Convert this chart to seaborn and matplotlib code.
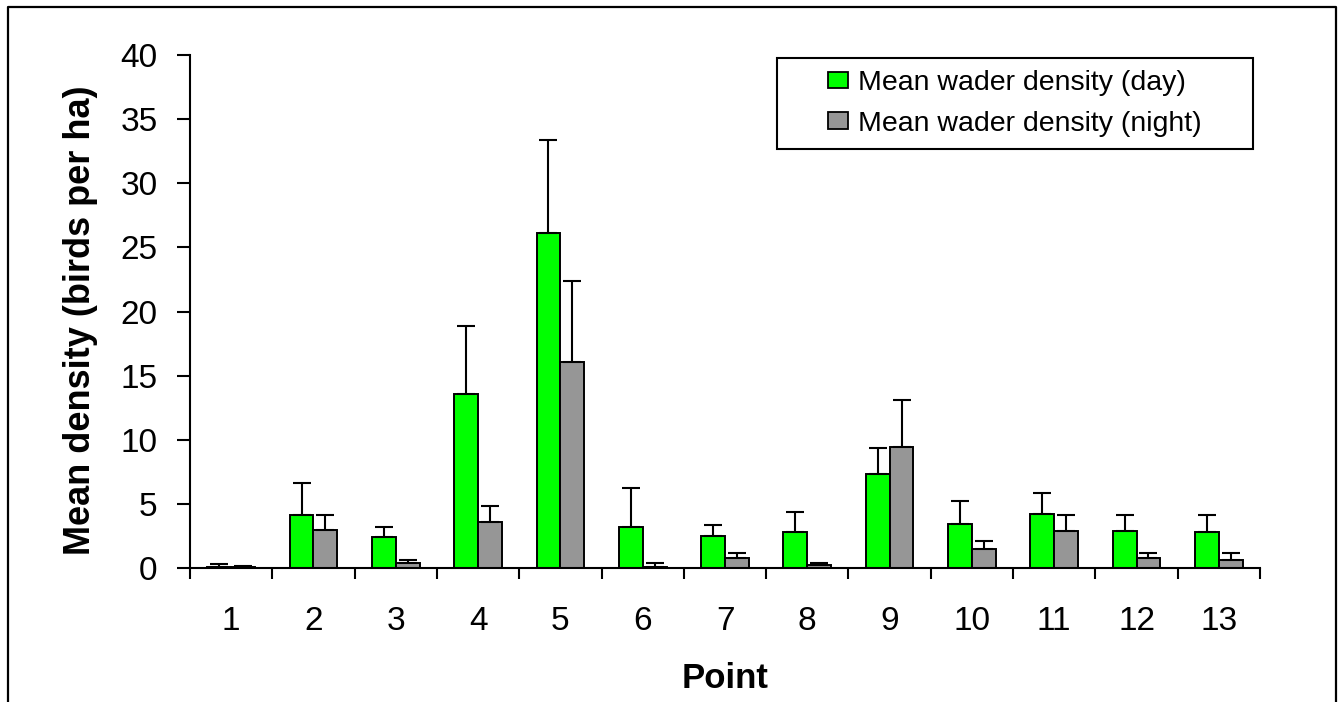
import numpy as np
import pandas as pd
import matplotlib
matplotlib.use("Agg")
import matplotlib.pyplot as plt
from matplotlib.patches import Rectangle
from matplotlib.lines import Line2D
import seaborn as sns

# Survey points and mean wader densities (birds per ha) with upper standard errors
points = [str(i) for i in range(1, 14)]
day_mean = [0.1, 4.1, 2.4, 13.6, 26.1, 3.2, 2.5, 2.8, 7.3, 3.4, 4.2, 2.9, 2.8]
day_err = [0.2, 2.55, 0.8, 5.3, 7.3, 3.06, 0.82, 1.56, 2.05, 1.8, 1.65, 1.2, 1.3]
night_mean = [0.08, 3.0, 0.4, 3.6, 16.1, 0.1, 0.75, 0.25, 9.45, 1.45, 2.9, 0.75, 0.6]
night_err = [0.05, 1.1, 0.25, 1.2, 6.25, 0.3, 0.42, 0.15, 3.65, 0.65, 1.2, 0.42, 0.57]
series = ["Mean wader density (day)", "Mean wader density (night)"]
y_ticks = [0, 5, 10, 15, 20, 25, 30, 35, 40]

colors = ["#00FF00", "#969696"]

df = pd.DataFrame({
    "Point": points * 2,
    "Period": [series[0]] * len(points) + [series[1]] * len(points),
    "Density": day_mean + night_mean,
})

sns.set_style("ticks")
plt.rcParams["font.family"] = ["Liberation Sans", "DejaVu Sans"]
plt.rcParams["text.color"] = "black"
plt.rcParams["axes.labelcolor"] = "black"
plt.rcParams["xtick.color"] = "black"
plt.rcParams["ytick.color"] = "black"

W, H = 1338, 702
fig = plt.figure(figsize=(W / 100, H / 100), dpi=100)
ax = fig.add_axes([190 / W, 1 - 568 / H, (1260 - 190) / W, (568 - 55) / H])

sns.barplot(data=df, x="Point", y="Density", hue="Period", hue_order=series,
            order=points, palette=colors, width=0.58, edgecolor="black",
            linewidth=1.4, errorbar=None, saturation=1, ax=ax)

# One-sided (upper) error bars on each bar
for container, errs in zip(ax.containers, [day_err, night_err]):
    xs = [p.get_x() + p.get_width() / 2 for p in container]
    hs = [p.get_height() for p in container]
    ax.errorbar(xs, hs, yerr=[np.zeros(len(errs)), errs], fmt="none",
                ecolor="black", elinewidth=1.5, capsize=6.5, capthick=1.5,
                zorder=1)

# Axes styling
ax.set_ylim(0, 40)
ax.set_yticks(y_ticks)
ax.set_yticklabels([str(v) for v in y_ticks])
ax.set_xlim(-0.5, len(points) - 0.5)
ax.set_xticks(np.arange(-0.5, len(points), 1.0))
ax.set_xticklabels([])
ax.set_xticks(np.arange(len(points)), minor=True)
ax.set_xticklabels(points, minor=True)

for side in ["top", "right"]:
    ax.spines[side].set_visible(False)
for side in ["left", "bottom"]:
    ax.spines[side].set_linewidth(1.5)
    ax.spines[side].set_color("black")

ax.tick_params(axis="y", which="major", direction="out", length=9.4,
               width=1.5, labelsize=24, pad=14, colors="black")
ax.tick_params(axis="x", which="major", direction="out", length=8,
               width=1.5, colors="black")
ax.tick_params(axis="x", which="minor", length=0, labelsize=24, pad=27,
               colors="black")

ax.set_xlabel("Point", fontsize=25, fontweight="bold", color="black")
ax.set_ylabel("Mean density (birds per ha)", fontsize=26, fontweight="bold",
              color="black")
ax.xaxis.set_label_coords(0.5, -0.1826)
ax.yaxis.set_label_coords(-0.0864, 0.483)

# Legend inside a square-cornered box at the top right
handles, labels = ax.get_legend_handles_labels()
for h in handles:
    h.set_edgecolor("black")
    h.set_linewidth(1.3)
box_x0, box_x1 = (777 - 190) / 1070, (1253 - 190) / 1070
box_y0, box_y1 = (568 - 149) / 513, (568 - 58) / 513
ax.add_patch(Rectangle((box_x0, box_y0), box_x1 - box_x0, box_y1 - box_y0,
                       transform=ax.transAxes, facecolor="white",
                       edgecolor="black", linewidth=1.5, zorder=4,
                       clip_on=False))
leg = ax.legend(handles, labels, loc="center",
                bbox_to_anchor=((box_x0 + box_x1) / 2, (box_y0 + box_y1) / 2),
                frameon=False, fontsize=20.5, handlelength=0.72,
                handleheight=0.5, handletextpad=0.35, labelspacing=0.5,
                borderpad=0.2, labelcolor="black")
leg.set_zorder(5)

# Figure frame (open at the bottom edge)
fx = [8 / W, 8 / W, 1336 / W, 1336 / W]
fy = [-0.05, 1 - 7 / H, 1 - 7 / H, -0.05]
fig.add_artist(Line2D(fx, fy, transform=fig.transFigure, color="black",
                      linewidth=1.6))

fig.savefig("out.png", dpi=100, facecolor="white")
